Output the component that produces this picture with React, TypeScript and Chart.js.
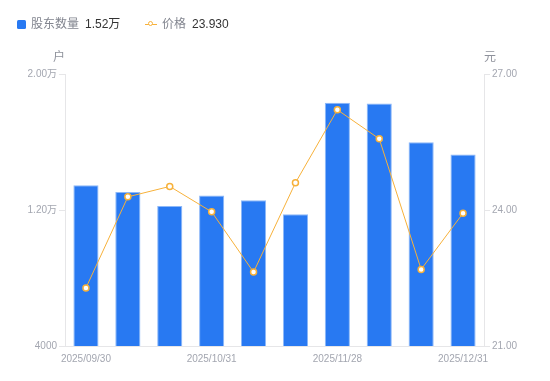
import React, { useEffect, useRef } from "react";
import { Chart, registerables } from "chart.js";

Chart.register(...registerables);

const categories = [
  "2025/09/30", "2025/10/10", "2025/10/20", "2025/10/31", "2025/11/10",
  "2025/11/20", "2025/11/28", "2025/12/10", "2025/12/20", "2025/12/31",
];
const shownLabelIdx = [0, 3, 6, 9];
const holders = [13450, 13060, 12240, 12860, 12570, 11750, 18310, 18270, 15980, 15270];
const prices = [22.28, 24.29, 24.52, 23.96, 22.63, 24.6, 26.21, 25.57, 22.69, 23.93];
const leftTicks = [4000, 12000, 20000];
const rightTicks = [21, 24, 27];
const legendNames = ["股东数量", "价格"];
const legendValues = ["1.52万", "23.930"];
const axisUnits = ["户", "元"];

const FONT = "'Liberation Sans', 'Noto Sans CJK SC', sans-serif";
const BLUE = "#2879F2";
const ORANGE = "#F7B13A";
const TICK = "#A3A6B0";
const LINE = "#E6E6E8";

function fmtHolders(v: number) {
  return v >= 10000 ? (v / 10000).toFixed(2) + "万" : String(v);
}

const unitPlugin = {
  id: "units",
  afterDraw(chart: any) {
    const ctx = chart.ctx;
    const y = chart.scales.y;
    const y1 = chart.scales.y1;
    ctx.save();
    ctx.font = `12px ${FONT}`;
    ctx.fillStyle = "#8E919B";
    ctx.textBaseline = "middle";
    ctx.textAlign = "center";
    ctx.fillText(axisUnits[0], y.right - 6, y.top - 16);
    ctx.fillText(axisUnits[1], y1.left + 6, y1.top - 16);
    ctx.restore();
  },
};

export default function App() {
  const ref = useRef<HTMLCanvasElement>(null);
  useEffect(() => {
    const chart = new Chart(ref.current!, {
      type: "bar",
      data: {
        labels: categories,
        datasets: [
          {
            type: "line",
            label: legendNames[1],
            data: prices,
            yAxisID: "y1",
            borderColor: ORANGE,
            borderWidth: 1,
            pointRadius: 3,
            pointBorderWidth: 1.5,
            pointBackgroundColor: "#fff",
            pointBorderColor: ORANGE,
            tension: 0,
            order: 0,
          } as any,
          {
            type: "bar",
            label: legendNames[0],
            data: holders,
            yAxisID: "y",
            backgroundColor: BLUE,
            borderColor: "#8DB8F8",
            borderWidth: 1,
            barPercentage: 0.6,
            categoryPercentage: 1,
            order: 1,
          },
        ],
      },
      options: {
        animation: false,
        responsive: false,
        layout: { padding: { top: 74, left: 0, right: 0, bottom: 0 } },
        plugins: { legend: { display: false }, tooltip: { enabled: false } },
        scales: {
          x: {
            offset: true,
            grid: { display: false, drawTicks: false },
            border: { display: true, color: LINE },
            afterFit: (s: any) => { s.height = 35; },
            ticks: {
              autoSkip: false,
              maxRotation: 0,
              padding: 7,
              color: TICK,
              font: { size: 10, family: FONT },
              callback: (_v: any, i: number) => (shownLabelIdx.includes(i) ? categories[i] : ""),
            },
          },
          y: {
            position: "left",
            min: leftTicks[0],
            max: leftTicks[leftTicks.length - 1],
            afterBuildTicks: (s: any) => { s.ticks = leftTicks.map((v) => ({ value: v })); },
            afterFit: (s: any) => { s.width = 65; },
            grid: { drawOnChartArea: false, tickLength: 6, color: LINE },
            border: { display: true, color: LINE },
            ticks: {
              padding: 2,
              color: TICK,
              font: { size: 10, family: FONT },
              callback: (v: any) => fmtHolders(Number(v)),
            },
          },
          y1: {
            position: "right",
            min: rightTicks[0],
            max: rightTicks[rightTicks.length - 1],
            afterBuildTicks: (s: any) => { s.ticks = rightTicks.map((v) => ({ value: v })); },
            afterFit: (s: any) => { s.width = 66; },
            grid: { drawOnChartArea: false, tickLength: 6, color: LINE },
            border: { display: true, color: LINE },
            ticks: {
              padding: 2,
              color: TICK,
              font: { size: 10, family: FONT },
              callback: (v: any) => Number(v).toFixed(2),
            },
          },
        },
      },
      plugins: [unitPlugin],
    });
    return () => chart.destroy();
  }, []);

  const txt: React.CSSProperties = { position: "absolute", top: 17, fontSize: 12, fontFamily: FONT, lineHeight: "14px", whiteSpace: "nowrap" };
  return (
    <div style={{ position: "fixed", left: 0, top: 0, width: 550, height: 381, background: "#fff" }}>
      <canvas ref={ref} width={550} height={381} style={{ position: "absolute", left: 0, top: 0 }} />
      <div style={{ position: "absolute", left: 17, top: 20, width: 9, height: 9, background: BLUE, borderRadius: 1.5 }} />
      <div style={{ ...txt, left: 31, color: "#82858F" }}>{legendNames[0]}</div>
      <div style={{ ...txt, left: 85, color: "#333" }}>{legendValues[0]}</div>
      <div style={{ position: "absolute", left: 145, top: 24, width: 12, height: 1, background: ORANGE }} />
      <div style={{ position: "absolute", left: 148, top: 21, width: 3, height: 3, border: `1.5px solid ${ORANGE}`, borderRadius: "50%", background: "#fff" }} />
      <div style={{ ...txt, left: 162, color: "#82858F" }}>{legendNames[1]}</div>
      <div style={{ ...txt, left: 192, color: "#333" }}>{legendValues[1]}</div>
    </div>
  );
}
